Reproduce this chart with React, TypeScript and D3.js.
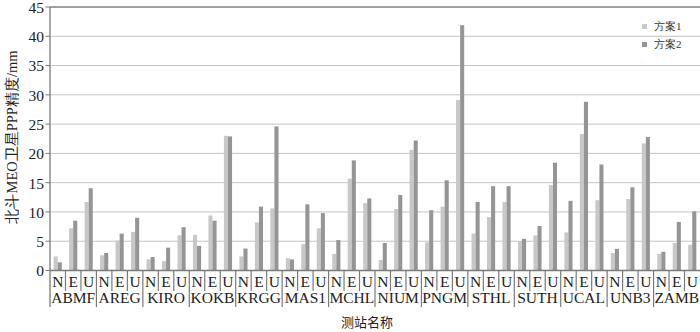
import React from "react";
import * as d3 from "d3";

const stations = ["ABMF", "AREG", "KIRO", "KOKB", "KRGG", "MAS1", "MCHL", "NIUM", "PNGM", "STHL", "SUTH", "UCAL", "UNB3", "ZAMB"];
const components = ["N", "E", "U"];
const seriesNames = ["方案1", "方案2"];
// values per station: [N, E, U]
const scheme1 = [
  [2.4, 7.2, 11.7],
  [2.6, 5.1, 6.6],
  [1.9, 1.6, 6.0],
  [6.1, 9.4, 23.0],
  [2.4, 8.2, 10.6],
  [2.1, 4.5, 7.2],
  [2.85, 15.7, 11.5],
  [1.8, 10.5, 20.6],
  [4.8, 10.9, 29.1],
  [6.3, 9.1, 11.7],
  [5.0, 6.0, 14.6],
  [6.5, 23.3, 12.0],
  [3.0, 12.2, 21.7],
  [2.85, 4.7, 4.4],
];
const scheme2 = [
  [1.4, 8.5, 14.05],
  [3.0, 6.3, 9.0],
  [2.3, 3.9, 7.4],
  [4.2, 8.5, 22.9],
  [3.75, 10.9, 24.6],
  [1.9, 11.3, 9.8],
  [5.2, 18.8, 12.3],
  [4.7, 12.9, 22.2],
  [10.3, 15.4, 41.9],
  [11.7, 14.4, 14.4],
  [5.4, 7.6, 18.4],
  [11.9, 28.8, 18.1],
  [3.7, 14.2, 22.8],
  [3.2, 8.3, 10.1],
];
const yTicks = [0, 5, 10, 15, 20, 25, 30, 35, 40, 45];
const yTitle = "北斗MEO卫星PPP精度/mm";
const xTitle = "测站名称";

const W = 700;
const H = 332;
const left = 50;
const right = 700;
const top = 7;
const bottom = 270.5;
const colors = ["#c8c8c8", "#959595"];
const serif = "'Liberation Serif', 'DejaVu Serif', serif";
const cjk = "'Noto Sans CJK SC', sans-serif";

export default function App() {
  const keys = stations.flatMap((s) => components.map((c) => `${s}|${c}`));
  const x = d3.scaleBand<string>().domain(keys).range([left, right]).padding(0);
  const inner = d3.scaleBand<string>().domain(seriesNames).range([0, x.bandwidth()]).paddingInner(0).paddingOuter(0.9);
  const y = d3.scaleLinear().domain([0, 45]).range([bottom, top]);
  const data = [scheme1, scheme2];

  return (
    <svg width={W} height={H} style={{ position: "absolute", left: 0, top: 0, background: "#fff" }}>
      <rect x={0} y={0} width={W} height={H} fill="#fff" />
      {/* gridlines */}
      {yTicks.filter((t) => t > 0).map((t) => (
        <line key={t} x1={left} x2={right} y1={y(t)} y2={y(t)} stroke={t === 45 ? "#808080" : "#c4c4c4"} strokeWidth={t === 45 ? 1.3 : 1} />
      ))}
      {/* bars */}
      {data.map((series, si) =>
        stations.map((s, i) =>
          components.map((c, j) => {
            const v = series[i][j];
            const bx = (x(`${s}|${c}`) ?? 0) + (inner(seriesNames[si]) ?? 0);
            return <rect key={`${si}-${s}-${c}`} x={bx} y={y(v)} width={inner.bandwidth()} height={y(0) - y(v)} fill={colors[si]} />;
          })
        )
      )}
      {/* y axis */}
      <line x1={left} x2={left} y1={top} y2={307} stroke="#7a7a7a" strokeWidth={1.3} />
      {yTicks.map((t) => (
        <g key={t}>
          <line x1={left - 4.5} x2={left} y1={y(t)} y2={y(t)} stroke="#7a7a7a" />
          <text x={44} y={y(t) + 0.5} dy="0.35em" textAnchor="end" fontFamily={serif} fontSize={15.5} fill="#222">{t}</text>
        </g>
      ))}
      {/* x axis */}
      <line x1={left} x2={right} y1={bottom} y2={bottom} stroke="#7a7a7a" strokeWidth={1.3} />
      {keys.map((k, idx) => {
        const x0 = x(k) ?? 0;
        const [s, c] = k.split("|");
        const groupStart = idx % 3 === 0;
        return (
          <g key={k}>
            {idx > 0 && (
              <line x1={x0} x2={x0} y1={bottom} y2={groupStart ? 307 : 291} stroke="#7a7a7a" strokeWidth={1.2} />
            )}
            <text x={x0 + x.bandwidth() / 2} y={287} textAnchor="middle" fontFamily={serif} fontSize={15.5} fill="#222">{c}</text>
          </g>
        );
      })}
      {stations.map((s) => {
        const x0 = x(`${s}|N`) ?? 0;
        return (
          <text key={s} x={x0 + (x.bandwidth() * 3) / 2} y={303} textAnchor="middle" fontFamily={serif} fontSize={15.5} fill="#222">{s}</text>
        );
      })}
      {/* titles */}
      <text x={367} y={322} dy="0.35em" textAnchor="middle" fontFamily={cjk} fontSize={13} fill="#222">{xTitle}</text>
      <text transform={`translate(12,137) rotate(-90)`} textAnchor="middle" dy="0.35em" fontFamily={serif} fontSize={14.5} fill="#222">{yTitle}</text>
      {/* legend */}
      {seriesNames.map((n, i) => (
        <g key={n}>
          <rect x={642} y={24 + i * 18} width={5} height={5} fill={colors[i]} />
          <text x={654} y={26.5 + i * 18} dy="0.35em" fontFamily={serif} fontSize={11} fill="#333">{n}</text>
        </g>
      ))}
    </svg>
  );
}
